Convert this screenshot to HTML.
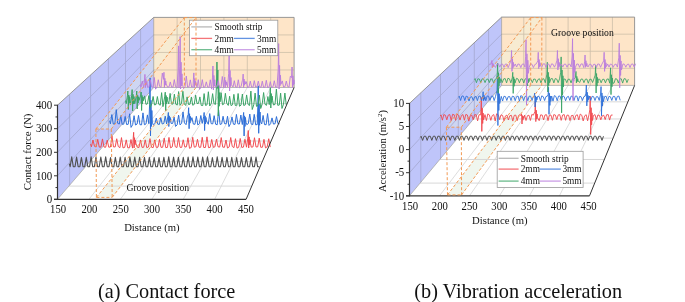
<!DOCTYPE html>
<html><head><meta charset="utf-8"><style>
html,body{margin:0;padding:0;background:#fff;}
body{width:685px;height:302px;overflow:hidden;font-family:"Liberation Serif",serif;}
svg{will-change:transform;}
svg{display:block;}
</style></head><body>
<svg width="685" height="302" viewBox="0 0 685 302" font-family="Liberation Serif, serif" fill="#111">
<rect width="685" height="302" fill="#ffffff"/>
<polygon points="57.5,105.2 153.7,17.4 153.7,87.5 57.5,199.3" fill="#bfc5fa" stroke="none" stroke-width="1" />
<polygon points="153.7,17.4 294.1,17.4 294.1,87.5 153.7,87.5" fill="#fee5c8" stroke="none" stroke-width="1" />
<polygon points="57.5,199.3 246.1,199.3 294.1,87.5 153.7,87.5" fill="#ffffff" stroke="none" stroke-width="1" />
<polygon points="96.4,197.4 112.2,197.4 196,87.5 184.4,87.5" fill="#f0f6ee" stroke="none" stroke-width="1" />
<polygon points="95.9,129 111.3,129 196,17.6 184.3,17.6" fill="#ebf5e1" stroke="none" stroke-width="1" fill-opacity="0.34"/>
<line x1="69.6" y1="94.16" x2="69.6" y2="185.24" stroke="#a3a7cf" stroke-width="0.8" />
<line x1="90.6" y1="74.99" x2="90.6" y2="160.83" stroke="#a3a7cf" stroke-width="0.8" />
<line x1="108.4" y1="58.74" x2="108.4" y2="140.15" stroke="#a3a7cf" stroke-width="0.8" />
<line x1="125.5" y1="43.14" x2="125.5" y2="120.27" stroke="#a3a7cf" stroke-width="0.8" />
<line x1="140.6" y1="29.36" x2="140.6" y2="102.72" stroke="#a3a7cf" stroke-width="0.8" />
<line x1="57.5" y1="175.78" x2="153.7" y2="69.97" stroke="#a3a7cf" stroke-width="0.8" />
<line x1="57.5" y1="152.25" x2="153.7" y2="52.45" stroke="#a3a7cf" stroke-width="0.8" />
<line x1="57.5" y1="128.73" x2="153.7" y2="34.93" stroke="#a3a7cf" stroke-width="0.8" />
<line x1="177.1" y1="17.4" x2="177.1" y2="87.5" stroke="#cdbfa8" stroke-width="0.8" />
<line x1="200.5" y1="17.4" x2="200.5" y2="87.5" stroke="#cdbfa8" stroke-width="0.8" />
<line x1="223.9" y1="17.4" x2="223.9" y2="87.5" stroke="#cdbfa8" stroke-width="0.8" />
<line x1="247.3" y1="17.4" x2="247.3" y2="87.5" stroke="#cdbfa8" stroke-width="0.8" />
<line x1="270.7" y1="17.4" x2="270.7" y2="87.5" stroke="#cdbfa8" stroke-width="0.8" />
<line x1="153.7" y1="69.97" x2="294.1" y2="69.97" stroke="#cdbfa8" stroke-width="0.8" />
<line x1="153.7" y1="52.45" x2="294.1" y2="52.45" stroke="#cdbfa8" stroke-width="0.8" />
<line x1="153.7" y1="34.93" x2="294.1" y2="34.93" stroke="#cdbfa8" stroke-width="0.8" />
<line x1="88.93" y1="199.3" x2="177.1" y2="87.5" stroke="#d4d4d4" stroke-width="0.8" />
<line x1="120.37" y1="199.3" x2="200.5" y2="87.5" stroke="#d4d4d4" stroke-width="0.8" />
<line x1="151.8" y1="199.3" x2="223.9" y2="87.5" stroke="#d4d4d4" stroke-width="0.8" />
<line x1="183.23" y1="199.3" x2="247.3" y2="87.5" stroke="#d4d4d4" stroke-width="0.8" />
<line x1="214.67" y1="199.3" x2="270.7" y2="87.5" stroke="#d4d4d4" stroke-width="0.8" />
<line x1="68.87" y1="186.09" x2="251.77" y2="186.09" stroke="#d4d4d4" stroke-width="0.9" />
<line x1="89.87" y1="161.68" x2="262.25" y2="161.68" stroke="#d4d4d4" stroke-width="0.9" />
<line x1="107.67" y1="141" x2="271.13" y2="141" stroke="#d4d4d4" stroke-width="0.9" />
<line x1="124.77" y1="121.12" x2="279.66" y2="121.12" stroke="#d4d4d4" stroke-width="0.9" />
<line x1="139.87" y1="103.57" x2="287.2" y2="103.57" stroke="#d4d4d4" stroke-width="0.9" />
<polyline points="57.5,105.2 153.7,17.4 294.1,17.4 294.1,87.5" fill="none" stroke="#8c8c8c" stroke-width="0.9" stroke-linejoin="round" />
<line x1="153.7" y1="17.4" x2="153.7" y2="87.5" stroke="#8c8c8c" stroke-width="0.6" />
<line x1="57.5" y1="199.3" x2="153.7" y2="87.5" stroke="#8c8c8c" stroke-width="0.6" />
<line x1="153.7" y1="87.5" x2="294.1" y2="87.5" stroke="#8c8c8c" stroke-width="0.6" />
<polyline points="69.3,163.73 70.17,166.7 71.72,156.91 73.28,166.7 75.02,166.7 76.57,157.16 78.13,166.7 79.87,166.7 81.42,157.46 82.98,166.7 84.72,166.7 86.27,157.37 87.83,166.7 89.57,166.7 91.12,156.82 92.68,166.7 94.42,166.7 95.97,157.13 97.53,166.7 99.27,166.7 100.82,156.98 102.38,166.7 104.12,166.7 105.67,156.82 107.23,166.7 108.97,166.7 110.52,157.59 112.08,166.7 113.82,166.7 115.37,157.36 116.93,166.7 118.67,166.7 120.22,157.04 121.78,166.7 123.52,166.7 125.07,157.27 126.63,166.7 128.37,166.7 129.92,156.94 131.48,166.7 133.22,166.7 134.77,157.15 136.33,166.7 138.07,166.7 139.62,157.19 141.18,166.7 142.92,166.7 144.47,157.27 146.03,166.7 147.77,166.7 149.32,157.41 150.88,166.7 152.62,166.7 154.17,157.55 155.73,166.7 157.47,166.7 159.02,157.56 160.58,166.7 162.32,166.7 163.87,157.39 165.43,166.7 167.17,166.7 168.72,156.84 170.28,166.7 172.02,166.7 173.57,157.18 175.13,166.7 176.87,166.7 178.42,157.29 179.98,166.7 181.72,166.7 183.27,157.26 184.83,166.7 186.57,166.7 188.12,157 189.68,166.7 191.42,166.7 192.97,156.81 194.53,166.7 196.27,166.7 197.82,157.07 199.38,166.7 201.12,166.7 202.67,157.02 204.23,166.7 205.97,166.7 207.52,156.82 209.08,166.7 210.82,166.7 212.37,157.51 213.93,166.7 215.67,166.7 217.22,156.82 218.78,166.7 220.52,166.7 222.07,157.36 223.63,166.7 225.37,166.7 226.92,157.43 228.48,166.7 230.22,166.7 231.77,157.26 233.33,166.7 235.07,166.7 236.62,157.57 238.18,166.7 239.92,166.7 241.47,157.54 243.03,166.7 244.77,166.7 246.32,157.5 247.88,166.7 249.62,166.7 251.17,156.94 252.73,166.7 254.47,166.7 256.02,157.1 257.58,166.7 259.32,166.7" fill="none" stroke="#505050" stroke-width="1.1" stroke-linejoin="round" />
<polyline points="90.6,144.06 91.45,146.76 92.97,140.01 94.49,146.35 96.2,147.01 97.72,139.36 99.24,147.11 100.95,147.13 102.47,138.91 103.99,147.02 105.7,147.24 107.22,140.12 108.74,147.19 110.45,147.02 111.97,135.91 113.49,146.9 115.2,146.94 116.72,138.75 118.24,146.47 119.95,147.68 121.47,137.6 122.99,147.86 124.7,147.43 126.22,139.83 127.74,147.82 129.45,147.67 130.97,139.52 132.5,148.12 133.2,138.67 133.65,132.3 134.1,147.98 134.55,137.69 135,144.75 135.45,140.14 135.9,143.28 137.25,147.19 138.95,147.52 140.47,139.92 142,147.38 143.7,147.26 145.22,139.85 146.75,147.67 148.45,147.02 149.97,138.63 151.5,147.22 153.2,147.6 154.72,139.87 156.25,147.41 157.95,147.21 159.47,139.28 161,147.36 162.7,147.21 164.22,138.12 165.75,147.63 167.45,147.42 168.97,137.42 170.5,147.82 172.2,146.97 173.72,137.43 175.25,146.71 176.95,147.54 178.47,137.51 180,147.29 181.7,147.41 183.22,139.79 184.75,146.95 186.45,146.79 187.97,137.71 189.5,148.33 191.2,147.5 192.72,137.26 194.25,147.17 195.95,146.75 197.47,139.23 199,147.23 200.7,147.31 202.22,137.31 203.75,147.55 205.45,147.46 206.97,136.85 208.5,147.69 210.2,147.4 211.72,139.42 213.25,147.37 214.95,146.81 216.47,139.14 218,146.75 219.7,147.09 221.22,137.57 222.75,147.11 224.45,147.3 225.97,140.02 227.5,148.06 229.2,146.86 230.72,137.51 232.25,146.47 233.95,147.62 235.47,138.69 237,148.11 238.7,147.29 240.22,138.51 241.75,147.41 243.45,147.12 244.97,139.29 246.5,147.2 247.8,138.04 248.25,130.5 248.7,147.98 249.15,136.88 249.6,144.75 250.05,139.78 250.5,143.28 251.25,147.16 252.95,146.92 254.47,137.73 256,146.94 257.71,146.91 259.23,138.11 260.75,147.31 262.46,147.21 263.98,139.34 265.5,147.91 267.21,146.8 268.73,138.74 270.25,147.09" fill="none" stroke="#f0474c" stroke-width="0.95" stroke-linejoin="round" />
<polyline points="109.6,120.71 110.4,123.91 111.82,114.6 113.25,124.07 114.85,123.74 116.27,109.62 117.7,123.33 119.3,124.07 120.72,115.68 122.15,124.29 123.75,124.14 125.17,116.44 126.6,124.52 128.2,124.25 129.62,113.8 131.05,127.4 132.65,124.69 134.07,115.69 135.5,125.03 137.1,124.02 138.52,115.33 139.95,124.7 141.55,124.83 142.97,112.87 144.4,124.73 146,123.93 147.42,114.9 148.85,123.7 149.6,104.39 150.05,77.9 150.5,136 150.95,100.31 151.4,126.46 151.85,110.5 152.3,122.12 153.3,125.05 154.9,123.59 156.32,118.09 157.75,124.15 159.35,124.44 160.77,117.69 162.2,123.99 163.8,123.43 165.22,116.16 166.65,123.98 167.9,116.49 168.35,112.47 168.8,126.5 169.25,115.87 169.7,122.18 170.15,117.41 170.6,120.22 171.1,123.43 172.7,123.4 174.12,117.06 175.55,126.46 177.15,124.85 178.57,115.03 180,124.86 181.6,123.38 183.02,111.94 184.45,122.92 186.05,124.68 187.47,116.12 188.2,114.82 188.65,107.7 189.1,128.7 189.55,113.72 190,123.17 190.45,116.46 190.9,120.66 191.92,117.66 193.35,124.08 194.95,124.29 196.37,116.26 197.8,124.98 199.4,123.7 200.82,115.5 202.25,123.4 203.7,116.49 204.15,112.47 204.6,130.5 205.05,115.87 205.5,123.98 205.95,117.41 206.4,121.02 208.3,124.31 209.72,113.59 211.15,123.63 212.75,123.88 214.17,115.66 215.6,124.2 217.2,124.82 218.62,110.22 220.05,124.44 221.65,123.9 223.07,116.25 224.5,123.61 226.1,123.92 227.52,116.26 228.95,126.62 230.55,123.68 231.97,116.91 233.4,124.15 235,124.42 236.42,114.37 237.85,123.8 239.45,124.01 240.87,115.05 242.3,124.56 243.2,116.49 243.65,112.47 244.1,136 244.55,115.87 245,126.46 245.45,117.41 245.9,122.12 246.75,124.63 248.35,123.63 249.77,114.06 251.2,124.11 252.8,124.58 254.22,114.35 255.65,124.8 257.25,124.56 257.8,107.15 258.25,85.8 258.7,133.3 259.15,103.87 259.6,125.24 260.05,112.08 260.5,121.58 261.7,123.97 263.12,115.43 264.55,124.62 266.15,124.7 267.57,113.52 269,125.45 270.6,123.68 272.02,117.9 273.45,124.06 275.05,123.78 276.47,116.57 277.9,123.54 279.5,123.78" fill="none" stroke="#2e6fd8" stroke-width="1.0" stroke-linejoin="round" />
<polyline points="125.5,100.55 126.27,103.67 127.4,95.71 127.85,91 128.3,109.5 128.75,94.99 129.2,103.31 129.65,96.8 130.1,100.5 130.51,105.07 131.7,95.22 132.15,89.6 132.6,111 133.05,94.36 133.5,103.99 133.95,96.52 134.4,100.8 134.76,103.8 136.3,95.71 136.75,91 137.2,109 137.65,94.99 138.1,103.09 138.55,96.8 139,100.4 140.38,96.21 140.7,96.06 141.15,92 141.6,110.5 142.05,95.44 142.5,103.76 142.95,97 143.4,100.7 144.62,95.87 145.99,104.38 147.51,103.72 148.88,95.59 150.24,107.4 151.76,104 153.12,96.48 154.49,104.94 156.01,104.48 157.38,96.56 158.74,104.28 160.26,105.18 161.62,92.65 162.99,106.63 164.8,96.13 165.25,92.2 165.7,110.8 166.15,95.53 166.6,103.9 167.05,97.04 167.5,100.76 168.76,103.78 170.12,93.4 171.49,104.08 173.01,104.05 174.38,94.14 175.74,104.18 177.26,105.07 178.62,91.59 179.99,105.34 181.51,103.41 182.88,91.27 184.24,103.86 185.76,105.52 187.12,96.89 188.49,104.41 190.01,104.25 191.38,96.94 192.74,105.27 194.26,104.33 195.62,95.11 196.99,103.5 198.51,103.33 199.88,96.92 201.24,105.42 202.76,105.57 204.12,93.59 205.49,105.39 207.01,104.87 208.38,91.76 209.74,106.02 211.26,103.59 212.62,93.65 213.99,103.66 215.51,104.41 216.5,85.56 216.95,62 217.4,88.36 217.85,70 218.3,116 218.75,85.54 219.2,106.24 219.65,92.6 220.1,101.8 221.12,92.67 222.49,104.78 224.01,103.87 225.38,93.27 226.74,103.2 228.26,105.44 229.62,96.19 230.99,105.59 232.51,104.81 233.88,94.35 235.24,105.48 236.76,105.32 238.12,93.51 239.49,106.24 241.01,105.15 242.38,94.05 243.74,105.48 245.26,104.89 246.62,94.93 247.99,104.35 249.51,105.52 250.88,91.07 252.24,109.51 253.76,104.84 255.12,93.09 256.49,106.37 258.01,105.44 259.38,95.12 260.74,108.49 262.26,103.58 263.62,92.56 264.99,104.29 266.51,105.33 267.88,96.54 269.24,104.64 269.9,94.59 270.35,87.8 270.8,108 271.25,93.55 271.7,102.64 272.15,96.16 272.6,100.2 273.49,105.02 275.01,104.43 276.38,89.05 277.74,105.27 279.26,105.08 280.62,93.14 281.99,108.48 283.51,104.19 284.88,93.05 286.24,104.85" fill="none" stroke="#3aa466" stroke-width="1.0" stroke-linejoin="round" />
<polyline points="140.3,84.65 141.02,87.27 142.3,81.04 143.58,87.6 144.5,80.09 144.95,74.4 145.4,87.65 145.85,79.21 146.3,85.18 146.75,81.4 147.2,84.05 147.58,87.49 149.02,86.86 150.3,79.7 151.58,86.89 153.02,87.36 154.3,77.48 155.58,89.16 157.02,86.77 158.3,79.76 159.58,86.4 161.02,87.33 162.3,73.07 163.5,79.35 163.95,72.3 164.4,87.65 164.85,78.27 165.3,85.18 165.75,80.98 166.2,84.05 167.58,87.16 169.02,86.9 170.3,81.94 171.58,87.09 173.02,87.13 174.3,79.57 175.58,86.75 177.02,87.29 178.1,70.11 178.55,45.9 179,88 179.7,66.86 180.15,36.6 180.6,89 181.05,62.2 181.5,85.78 181.95,73.84 182.4,84.32 183.58,88.57 185.02,86.95 186.3,76.1 187.58,87.1 189.02,86.82 190.3,79.87 191.58,87.01 193.02,86.94 193.4,79.56 193.85,72.9 194.3,87.65 194.75,78.54 195.2,85.18 195.65,81.1 196.1,84.05 197.02,87.27 198.3,79.68 199.58,89.43 201.02,87.13 202.3,79.64 203.58,87.45 205.02,86.91 206.3,81.83 207.58,86.93 209.02,87.42 210.3,79.79 211.58,89.14 212.5,77.15 212.95,66 213.4,90 213.85,75.43 214.3,86.23 214.75,79.72 215.2,84.52 215.58,86.92 217.02,86.72 218.3,80.6 219.58,88.02 221.02,87.39 222.3,76.48 223.58,87.49 224.3,81.07 224.75,77.2 225.2,87.65 225.65,80.47 226.1,85.18 226.55,81.96 227,84.05 227.58,87.05 228.7,73.3 229.15,55 229.6,91 230.05,70.48 230.5,86.68 230.95,77.52 231.4,84.72 233.02,87.03 234.3,80.68 235.58,86.88 237.02,87.42 238.3,79.78 239.58,87.76 241.02,86.74 242.3,80.71 242.7,79.98 243.15,74.1 243.6,87.65 244.05,79.08 244.5,85.18 244.95,81.34 245.4,84.05 246.3,81.68 247.58,87.47 249.02,86.95 250.3,81.14 251.58,87.1 253.02,87.19 254.3,80.67 255.58,87.04 257.02,86.68 258.3,81.11 259.58,86.72 261.02,87.29 262.3,81.16 263.58,87.4 265.02,87.23 266.3,80.31 267.58,87.47 269.02,87.19 270.3,81.61 271.58,87.55 273.02,86.8 274.3,80.76 275.58,87.05 277.02,87.21 278.2,69.31 278.65,43.6 279.1,89 279.55,65.35 280,85.78 280.45,75.24 280.9,84.32 282.3,80.92 283.58,87.08 285.02,86.7 286.3,81.07 287.58,86.44 289.02,87.15 290.3,76.3 291.6,77.5 292.05,67 292.5,87.65 292.95,75.88 293.4,85.18 293.85,79.92 294.3,84.05" fill="none" stroke="#b97ddd" stroke-width="0.95" stroke-linejoin="round" />
<line x1="57.5" y1="104.7" x2="57.5" y2="199.9" stroke="#333333" stroke-width="1.2" />
<line x1="54" y1="199.3" x2="246.1" y2="199.3" stroke="#333333" stroke-width="1.2" />
<line x1="246.1" y1="199.3" x2="294.1" y2="87.5" stroke="#333333" stroke-width="1.0" />
<line x1="54" y1="199.3" x2="57.5" y2="199.3" stroke="#333333" stroke-width="1.0" />
<text transform="translate(52.2,203.05) scale(1,1.1)" font-size="10.9" text-anchor="end">0</text>
<line x1="54" y1="175.8" x2="57.5" y2="175.8" stroke="#333333" stroke-width="1.0" />
<text transform="translate(52.2,179.55) scale(1,1.1)" font-size="10.9" text-anchor="end">100</text>
<line x1="54" y1="152.3" x2="57.5" y2="152.3" stroke="#333333" stroke-width="1.0" />
<text transform="translate(52.2,156.05) scale(1,1.1)" font-size="10.9" text-anchor="end">200</text>
<line x1="54" y1="128.7" x2="57.5" y2="128.7" stroke="#333333" stroke-width="1.0" />
<text transform="translate(52.2,132.45) scale(1,1.1)" font-size="10.9" text-anchor="end">300</text>
<line x1="54" y1="105.2" x2="57.5" y2="105.2" stroke="#333333" stroke-width="1.0" />
<text transform="translate(52.2,108.95) scale(1,1.1)" font-size="10.9" text-anchor="end">400</text>
<line x1="55.5" y1="187.55" x2="57.5" y2="187.55" stroke="#333333" stroke-width="1.0" />
<line x1="55.5" y1="164.05" x2="57.5" y2="164.05" stroke="#333333" stroke-width="1.0" />
<line x1="55.5" y1="140.5" x2="57.5" y2="140.5" stroke="#333333" stroke-width="1.0" />
<line x1="55.5" y1="116.95" x2="57.5" y2="116.95" stroke="#333333" stroke-width="1.0" />
<text transform="translate(58.1,213.4) scale(1,1.1)" font-size="10.7" text-anchor="middle">150</text>
<text transform="translate(89.4,213.4) scale(1,1.1)" font-size="10.7" text-anchor="middle">200</text>
<text transform="translate(120.7,213.4) scale(1,1.1)" font-size="10.7" text-anchor="middle">250</text>
<text transform="translate(152,213.4) scale(1,1.1)" font-size="10.7" text-anchor="middle">300</text>
<text transform="translate(183.3,213.4) scale(1,1.1)" font-size="10.7" text-anchor="middle">350</text>
<text transform="translate(214.6,213.4) scale(1,1.1)" font-size="10.7" text-anchor="middle">400</text>
<text transform="translate(245.9,213.4) scale(1,1.1)" font-size="10.7" text-anchor="middle">450</text>
<polygon points="409.5,103.4 501.6,17.1 501.6,85.4 409.5,195.8" fill="#bfc5fa" stroke="none" stroke-width="1" />
<polygon points="501.6,17.1 634.6,17.1 634.6,85.4 501.6,85.4" fill="#fee5c8" stroke="none" stroke-width="1" />
<polygon points="409.5,195.8 589.5,195.8 634.6,85.4 501.6,85.4" fill="#ffffff" stroke="none" stroke-width="1" />
<polygon points="447.5,194.9 461.6,194.9 541.7,85.4 530.7,85.4" fill="#f0f6ee" stroke="none" stroke-width="1" />
<polygon points="446.4,127.2 461.3,127.2 541.9,17.6 530.7,17.6" fill="#ebf5e1" stroke="none" stroke-width="1" fill-opacity="0.34"/>
<line x1="420.8" y1="92.81" x2="420.8" y2="182.25" stroke="#a3a7cf" stroke-width="0.8" />
<line x1="440.5" y1="74.35" x2="440.5" y2="158.64" stroke="#a3a7cf" stroke-width="0.8" />
<line x1="458.3" y1="57.67" x2="458.3" y2="137.3" stroke="#a3a7cf" stroke-width="0.8" />
<line x1="474.3" y1="42.68" x2="474.3" y2="118.12" stroke="#a3a7cf" stroke-width="0.8" />
<line x1="488.6" y1="29.28" x2="488.6" y2="100.98" stroke="#a3a7cf" stroke-width="0.8" />
<line x1="409.5" y1="172.7" x2="501.6" y2="68.33" stroke="#a3a7cf" stroke-width="0.8" />
<line x1="409.5" y1="149.6" x2="501.6" y2="51.25" stroke="#a3a7cf" stroke-width="0.8" />
<line x1="409.5" y1="126.5" x2="501.6" y2="34.17" stroke="#a3a7cf" stroke-width="0.8" />
<line x1="523.77" y1="17.1" x2="523.77" y2="85.4" stroke="#cdbfa8" stroke-width="0.8" />
<line x1="545.93" y1="17.1" x2="545.93" y2="85.4" stroke="#cdbfa8" stroke-width="0.8" />
<line x1="568.1" y1="17.1" x2="568.1" y2="85.4" stroke="#cdbfa8" stroke-width="0.8" />
<line x1="590.27" y1="17.1" x2="590.27" y2="85.4" stroke="#cdbfa8" stroke-width="0.8" />
<line x1="612.43" y1="17.1" x2="612.43" y2="85.4" stroke="#cdbfa8" stroke-width="0.8" />
<line x1="501.6" y1="68.33" x2="634.6" y2="68.33" stroke="#cdbfa8" stroke-width="0.8" />
<line x1="501.6" y1="51.25" x2="634.6" y2="51.25" stroke="#cdbfa8" stroke-width="0.8" />
<line x1="501.6" y1="34.17" x2="634.6" y2="34.17" stroke="#cdbfa8" stroke-width="0.8" />
<line x1="439.5" y1="195.8" x2="523.77" y2="85.4" stroke="#d4d4d4" stroke-width="0.8" />
<line x1="469.5" y1="195.8" x2="545.93" y2="85.4" stroke="#d4d4d4" stroke-width="0.8" />
<line x1="499.5" y1="195.8" x2="568.1" y2="85.4" stroke="#d4d4d4" stroke-width="0.8" />
<line x1="529.5" y1="195.8" x2="590.27" y2="85.4" stroke="#d4d4d4" stroke-width="0.8" />
<line x1="559.5" y1="195.8" x2="612.43" y2="85.4" stroke="#d4d4d4" stroke-width="0.8" />
<line x1="420.09" y1="183.1" x2="594.69" y2="183.1" stroke="#d4d4d4" stroke-width="0.9" />
<line x1="439.79" y1="159.49" x2="604.33" y2="159.49" stroke="#d4d4d4" stroke-width="0.9" />
<line x1="457.59" y1="138.15" x2="613.05" y2="138.15" stroke="#d4d4d4" stroke-width="0.9" />
<line x1="473.59" y1="118.97" x2="620.88" y2="118.97" stroke="#d4d4d4" stroke-width="0.9" />
<line x1="487.89" y1="101.83" x2="627.89" y2="101.83" stroke="#d4d4d4" stroke-width="0.9" />
<polyline points="409.5,103.4 501.6,17.1 634.6,17.1 634.6,85.4" fill="none" stroke="#8c8c8c" stroke-width="0.9" stroke-linejoin="round" />
<line x1="501.6" y1="17.1" x2="501.6" y2="85.4" stroke="#8c8c8c" stroke-width="0.6" />
<line x1="409.5" y1="195.8" x2="501.6" y2="85.4" stroke="#8c8c8c" stroke-width="0.6" />
<line x1="501.6" y1="85.4" x2="634.6" y2="85.4" stroke="#8c8c8c" stroke-width="0.6" />
<polyline points="420.3,137.46 421.13,136.25 422.6,140.4 424.07,136.25 425.73,136.25 427.2,140.4 428.67,136.25 430.33,136.27 431.8,140.4 433.27,136.27 434.93,136.2 436.4,140.4 437.87,136.2 439.53,136.25 441,140.4 442.47,136.25 444.13,136.23 445.6,140.4 447.07,136.23 448.73,136.23 450.2,140.4 451.67,136.23 453.33,136.29 454.8,140.4 456.27,136.29 457.93,136.21 459.4,140.4 460.87,136.21 462.53,136.28 464,140.4 465.47,136.28 467.13,136.26 468.6,140.4 470.07,136.26 471.73,136.24 473.2,140.4 474.67,136.24 476.33,136.22 477.8,140.4 479.27,136.22 480.93,136.23 482.4,140.4 483.87,136.23 485.53,136.23 487,140.4 488.47,136.23 490.13,136.29 491.6,140.4 493.07,136.29 494.73,136.28 496.2,140.4 497.67,136.28 499.33,136.21 500.8,140.4 502.27,136.21 503.93,136.26 505.4,140.4 506.87,136.26 508.53,136.29 510,140.4 511.47,136.29 513.13,136.25 514.6,140.4 516.07,136.25 517.73,136.29 519.2,140.4 520.67,136.29 522.33,136.2 523.8,140.4 525.27,136.2 526.93,136.28 528.4,140.4 529.87,136.28 531.53,136.28 533,140.4 534.47,136.28 536.13,136.29 537.6,140.4 539.07,136.29 540.73,136.26 542.2,140.4 543.67,136.26 545.33,136.24 546.8,140.4 548.27,136.24 549.93,136.2 551.4,140.4 552.87,136.2 554.53,136.3 556,140.4 557.47,136.3 559.13,136.3 560.6,140.4 562.07,136.3 563.73,136.25 565.2,140.4 566.67,136.25 568.33,136.21 569.8,140.4 571.27,136.21 572.93,136.22 574.4,140.4 575.87,136.22 577.53,136.23 579,140.4 580.47,136.23 582.13,136.2 583.6,140.4 585.07,136.2 586.73,136.25 588.2,140.4 589.67,136.25 591.33,136.25 592.8,140.4 594.27,136.25 595.93,136.25 597.4,140.4 598.87,136.25 600.53,136.24 602,140.4 603.47,136.24" fill="none" stroke="#505050" stroke-width="1.0" stroke-linejoin="round" />
<polyline points="440.2,115.96 440.99,114.89 442.4,120.18 443.81,114.54 445.39,115.24 446.8,119.83 448.21,115.15 449.79,114.57 451.2,120.67 452.61,114.31 454.19,114.82 455.6,120.39 457.01,114.18 458.59,115.43 460,120.09 461.41,115.62 462.99,114.57 464.4,120.22 465.81,114.44 467.39,115.02 468.8,121.11 470.21,115.76 471.79,115.09 473.2,119.78 474.61,114.68 476.19,114.78 477.6,120.88 479.01,114.67 480.59,114.94 480.9,110.17 481.35,97.5 481.8,131.4 482.25,108.22 482.7,123.48 483.15,113.1 483.6,119.88 484.99,114.59 486.4,120.59 487.81,113.89 489.39,114.88 490.8,120.35 492.21,115.59 493.79,114.57 495.2,121.02 496.61,113.8 498.19,114.68 499.6,119.66 501.01,114.86 502.59,115.42 504,120.83 505.41,115.94 506.99,115.06 508.4,120.01 509.81,115.76 511.39,115.33 512.8,121.07 514.21,115.35 515.79,115.12 517.2,120.67 518.61,115.43 520.19,114.54 521.1,115.91 521.55,113.88 522,124 522.45,115.6 522.9,120.15 523.35,116.38 523.8,118.4 524.59,115.05 526,120.52 527.41,115.68 528.99,115.22 530.4,120.48 531.81,114.47 533.39,115.14 534.9,111.72 535.35,101.9 535.8,121.6 536.25,110.2 536.7,119.07 537.15,113.98 537.6,117.92 539.2,120.68 540.61,114.86 542.19,115.05 543.6,119.98 545.01,114.9 546.59,114.74 548,120.69 549.41,115.14 550.99,115.09 552.4,120.29 553.81,114.59 555.39,115.09 556.8,119.61 558.21,114.88 559.79,114.69 561.2,120.38 562.61,115 564.19,114.57 565.6,120.32 567.01,115.12 568.59,115.26 570,120.65 571.41,115.52 572.99,115.41 574.4,120.1 575.81,115.41 577.39,114.78 578.8,119.99 580.21,114.07 581.79,115.24 583.2,120.96 584.61,115.86 586.19,114.73 587.6,120.82 589.01,114.6 589.8,109.75 590.25,96.3 590.7,134.5 591.15,107.69 591.6,124.88 592.05,112.86 592.5,120.5 593.41,115.52 594.99,114.58 596.4,119.68 597.81,115.1 599.39,115.31 600.8,119.81 602.21,115.88 603.79,115.27 605.2,119.62 606.61,114.75 608.19,114.57 609.6,120.09 611.01,115.13 612.59,115.03" fill="none" stroke="#f0474c" stroke-width="0.88" stroke-linejoin="round" />
<polyline points="458.5,97.29 459.26,96.22 460.6,100.5 461.94,95.92 463.46,96.19 464.8,100.55 466.14,96.13 467.66,96.72 469,101.05 470.34,96.99 471.86,96.69 473.2,100.52 474.54,96.99 476.06,96.42 477.4,100.67 478.74,96.26 480.26,96.1 481.6,100.78 482.7,95.89 483.15,91.7 483.6,100.73 484.05,95.25 484.5,99.31 484.95,96.86 485.4,98.67 485.8,100.75 487.14,95.9 488.66,96.4 490,100.5 491.34,96.17 492.86,96.17 494.2,100.64 495.54,96.36 497,90.4 497.45,76 497.9,125.5 498.35,88.18 498.8,110.46 499.25,93.72 499.7,103.62 501.26,96.36 502.6,101.03 503.94,96.25 505.46,96.62 506.8,100.48 508.14,96.72 509.66,96.5 511,100.55 512.34,96.21 513.86,96.59 515.2,100.78 516.54,96.63 518.06,96.03 519.4,101.16 520.74,95.71 522.26,96.26 523.6,100.62 524.94,96.55 526.46,96 527.8,100.71 529.14,96.15 530.66,96.26 532,100.52 533.34,96.41 534.2,96.38 534.65,93.1 535.1,107 535.55,95.88 536,102.13 536.45,97.14 536.9,99.92 537.54,96.48 539.06,96.3 540.4,100.82 541.74,95.88 543.26,96.67 544.6,100.55 545.94,96.61 547.46,96.12 548.1,94.35 548.55,87.3 549,114.3 549.45,93.27 549.9,105.42 550.35,95.98 550.8,101.38 551.66,96.03 553,101.15 554.34,95.64 555.86,96.46 557.2,100.77 558.54,96.14 560.06,96 561.4,100.62 562.74,95.87 564.26,96.69 565.6,100.75 566.94,97.05 568.46,96.38 569.8,100.4 571.14,96.07 572.66,96.46 574,100.56 575.34,96.1 576.86,96.04 578.2,101.05 579.54,96.47 581.06,96.7 582.4,100.55 583.74,96.92 585.26,96.09 585.9,93.55 586.35,85 586.8,105.9 587.25,92.23 587.7,101.64 588.15,95.52 588.6,99.7 589.46,96 590.8,100.51 592.14,96.3 593.66,96.73 595,100.52 596.34,96.7 597.86,96.78 599.2,100.46 600.6,94.11 601.05,86.6 601.5,115.8 601.95,92.95 602.4,106.09 602.85,95.84 603.3,101.68 604.74,96.36 606.26,96.43 607.6,100.86 608.94,96.37 610.46,96.83 611.8,100.43 613.14,96.44 614.66,96.43 616,100.51 617.34,96.46 618.86,96.01 620.2,100.34" fill="none" stroke="#2e6fd8" stroke-width="0.88" stroke-linejoin="round" />
<polyline points="474.3,79.7 475.07,78.59 476.45,82.7 477.83,78.77 479.37,79.03 480.75,82.59 482.13,78.81 483.67,79.22 485.05,82.62 486.43,79.26 487.97,79.03 489.35,82.57 490.73,78.79 492.27,79.28 493.65,83.2 495.03,79.43 496.57,78.59 497.2,74.45 497.65,63.2 498.1,93 498.55,72.72 499,86.12 499.45,77.04 499.9,83 500.87,78.66 502.25,82.58 503.63,78.91 505.17,78.57 506.55,82.92 507.93,78.25 509.47,78.88 510.85,82.85 512.3,77.63 512.75,72.3 513.2,93.4 513.65,76.81 514.1,86.31 514.55,78.86 515,83.08 516.53,78.29 518.07,79.06 519.45,82.84 520.83,78.94 522.37,78.96 523.75,83 525.13,78.93 526.4,78.58 526.85,75 527.3,86 527.75,78.03 528.2,82.97 528.65,79.4 529.1,81.6 529.43,78.53 530.97,79.25 532.35,82.66 533.73,79.03 535.27,79.2 536.65,82.73 538.03,79.41 539.57,78.79 540.95,82.91 542.33,79.07 543.87,78.79 545.25,82.75 546.9,74.13 547.35,62.3 547.8,92 548.25,72.31 548.7,85.67 549.15,76.86 549.6,82.8 550.93,78.67 552.47,78.66 553.85,82.94 555.23,78.56 556.77,79.13 558.15,82.68 559.53,78.85 560.7,72.24 561.15,56.9 561.6,112.8 562.05,69.88 562.5,95.03 562.95,75.78 563.4,86.96 563.83,78.96 565.37,79.25 566.75,82.71 568.13,79.22 569.67,79.25 571.05,82.93 572.43,78.92 573.97,79.19 575.5,77.31 575.95,71.4 576.4,82.9 576.85,76.41 577.3,81.58 577.75,78.68 578.2,80.98 579.65,82.5 581.03,79.09 582.57,79.13 583.95,82.7 585.33,79.27 586.87,79.02 588.25,83.24 589.63,79.34 591.17,79.18 592.55,82.52 593.93,78.89 595.2,75.08 595.65,65 596.1,93 596.55,73.53 597,86.12 597.45,77.4 597.9,83 598.23,79.22 599.77,79.22 601.15,82.84 602.53,79.37 604.07,79.27 605.45,82.88 606.83,79.18 608.37,78.92 609.75,83.19 610.1,76.06 610.55,67.8 611,94.6 611.45,74.78 611.9,86.84 612.35,77.96 612.8,83.32 614.05,83.05 615.43,78.69 616.97,79.12 618.35,83.06 619.73,78.87 621.27,78.8 622.65,83.1 624.03,78.68 625.57,78.9 626.95,82.61 628.33,79.18" fill="none" stroke="#3aa466" stroke-width="0.88" stroke-linejoin="round" />
<polyline points="489.3,64.76 490.06,64.42 491.4,63.69 491.85,60.5 492.3,67.32 492.75,63.2 493.2,66.26 493.65,64.42 494.1,65.78 495.6,67.45 496.94,64.1 498.46,63.97 499.8,67.14 501.14,64.24 502.66,64.13 504,67.36 505.34,64.04 506.86,64.16 508.2,67.64 509.54,64.16 511.1,60.19 511.55,50.5 512,71.4 512.45,58.7 512.9,68.1 513.35,62.42 513.8,66.6 515.26,63.98 516.6,67.03 517.94,63.96 519.46,64.34 520.8,67.61 522.14,64.24 523.66,63.95 525,67.22 525.6,56.37 526.05,39.6 526.5,105 526.95,53.79 527.4,83.22 527.85,60.24 528.3,73.32 529.2,67.32 530.54,63.77 532.06,64.34 533.4,67.57 534.74,64.62 536.26,63.9 537.8,60.82 538.25,52.3 538.7,68.7 539.15,59.51 539.6,66.89 540.05,62.78 540.5,66.06 541.8,67.16 543.14,63.9 544.66,63.81 546,67.4 547.34,63.94 548.86,64.18 550.2,67.57 551.54,63.87 553.06,64.23 554.4,67.16 555.74,64.54 557,60.19 557.45,50.5 557.9,70 558.35,58.7 558.8,67.47 559.25,62.42 559.7,66.32 561.46,64.02 562.8,67.07 564.14,64.23 565.66,64.17 567,67.22 568.34,64.32 569.86,64.15 571.2,67 572.1,56.02 572.55,38.6 573,100.6 573.45,53.34 573.9,81.24 574.35,60.04 574.8,72.44 575.4,67.35 576.74,64.06 578.26,64.04 579.6,67.34 580.94,64.01 582.46,63.9 583.8,67.63 584.6,61.76 585.05,55 585.5,67.32 585.95,60.72 586.4,66.26 586.85,63.32 587.3,65.78 588,67.04 589.34,64.33 590.86,64.25 592.2,67.43 593.54,64.43 595.06,64.26 596.4,67.55 597.74,63.98 599.26,64.07 600.6,67.32 601.94,64.05 603.7,60.82 604.15,52.3 604.6,71.4 605.05,59.51 605.5,68.1 605.95,62.78 606.4,66.6 607.66,63.96 609,67.11 610.34,64.07 611.86,64.44 613.2,67.3 614.54,64.62 616.06,64.05 617.4,67.11 618.8,57.63 619.25,43.2 619.7,87.8 620.15,55.41 620.6,75.48 621.05,60.96 621.5,69.88 622.94,63.91 624.46,64.29 625.8,67.21 627.14,64.52 628.66,64.09 630,67.57 631.34,64.21 632.86,63.97 634.2,67.15 635.54,63.75" fill="none" stroke="#b97ddd" stroke-width="0.88" stroke-linejoin="round" />
<line x1="409.5" y1="102.9" x2="409.5" y2="196.4" stroke="#333333" stroke-width="1.2" />
<line x1="406" y1="195.8" x2="589.5" y2="195.8" stroke="#333333" stroke-width="1.2" />
<line x1="589.5" y1="195.8" x2="634.6" y2="85.4" stroke="#333333" stroke-width="1.0" />
<line x1="406" y1="195.8" x2="409.5" y2="195.8" stroke="#333333" stroke-width="1.0" />
<text transform="translate(404.2,199.55) scale(1,1.1)" font-size="10.9" text-anchor="end">-10</text>
<line x1="406" y1="172.7" x2="409.5" y2="172.7" stroke="#333333" stroke-width="1.0" />
<text transform="translate(404.2,176.45) scale(1,1.1)" font-size="10.9" text-anchor="end">-5</text>
<line x1="406" y1="149.6" x2="409.5" y2="149.6" stroke="#333333" stroke-width="1.0" />
<text transform="translate(404.2,153.35) scale(1,1.1)" font-size="10.9" text-anchor="end">0</text>
<line x1="406" y1="126.5" x2="409.5" y2="126.5" stroke="#333333" stroke-width="1.0" />
<text transform="translate(404.2,130.25) scale(1,1.1)" font-size="10.9" text-anchor="end">5</text>
<line x1="406" y1="103.4" x2="409.5" y2="103.4" stroke="#333333" stroke-width="1.0" />
<text transform="translate(404.2,107.15) scale(1,1.1)" font-size="10.9" text-anchor="end">10</text>
<line x1="407.5" y1="184.25" x2="409.5" y2="184.25" stroke="#333333" stroke-width="1.0" />
<line x1="407.5" y1="161.15" x2="409.5" y2="161.15" stroke="#333333" stroke-width="1.0" />
<line x1="407.5" y1="138.05" x2="409.5" y2="138.05" stroke="#333333" stroke-width="1.0" />
<line x1="407.5" y1="114.95" x2="409.5" y2="114.95" stroke="#333333" stroke-width="1.0" />
<text transform="translate(410.1,210) scale(1,1.1)" font-size="10.7" text-anchor="middle">150</text>
<text transform="translate(439.85,210) scale(1,1.1)" font-size="10.7" text-anchor="middle">200</text>
<text transform="translate(469.6,210) scale(1,1.1)" font-size="10.7" text-anchor="middle">250</text>
<text transform="translate(499.35,210) scale(1,1.1)" font-size="10.7" text-anchor="middle">300</text>
<text transform="translate(529.1,210) scale(1,1.1)" font-size="10.7" text-anchor="middle">350</text>
<text transform="translate(558.85,210) scale(1,1.1)" font-size="10.7" text-anchor="middle">400</text>
<text transform="translate(588.6,210) scale(1,1.1)" font-size="10.7" text-anchor="middle">450</text>
<rect x="189.5" y="20.2" width="88.3" height="35.5" fill="#ffffff" stroke="#9a9a9a" stroke-width="0.8"/>
<line x1="191.3" y1="26.9" x2="212.1" y2="26.9" stroke="#a0a0a0" stroke-width="1.3" stroke-opacity="0.75"/>
<text x="214.5" y="30.2" font-size="9.35" text-anchor="start" >Smooth strip</text>
<line x1="191.3" y1="38.4" x2="212.1" y2="38.4" stroke="#f0474c" stroke-width="1.3" stroke-opacity="0.75"/>
<text x="214.5" y="41.7" font-size="9.35" text-anchor="start" >2mm</text>
<line x1="233.9" y1="38.4" x2="254.7" y2="38.4" stroke="#2e6fd8" stroke-width="1.3" stroke-opacity="0.75"/>
<text x="257" y="41.7" font-size="9.35" text-anchor="start" >3mm</text>
<line x1="191.3" y1="49.7" x2="212.1" y2="49.7" stroke="#3aa466" stroke-width="1.3" stroke-opacity="0.75"/>
<text x="214.5" y="53" font-size="9.35" text-anchor="start" >4mm</text>
<line x1="233.9" y1="49.7" x2="254.7" y2="49.7" stroke="#b97ddd" stroke-width="1.3" stroke-opacity="0.75"/>
<text x="257" y="53" font-size="9.35" text-anchor="start" >5mm</text>
<rect x="497.2" y="151.3" width="85.9" height="36.2" fill="#ffffff" stroke="#9a9a9a" stroke-width="0.8"/>
<line x1="498.6" y1="158.3" x2="518.6" y2="158.3" stroke="#a0a0a0" stroke-width="1.3" stroke-opacity="0.75"/>
<text x="520.7" y="161.6" font-size="9.35" text-anchor="start" >Smooth strip</text>
<line x1="498.6" y1="169.1" x2="518.6" y2="169.1" stroke="#f0474c" stroke-width="1.3" stroke-opacity="0.75"/>
<text x="520.7" y="172.4" font-size="9.35" text-anchor="start" >2mm</text>
<line x1="539.9" y1="169.1" x2="560.8" y2="169.1" stroke="#2e6fd8" stroke-width="1.3" stroke-opacity="0.75"/>
<text x="562.4" y="172.4" font-size="9.35" text-anchor="start" >3mm</text>
<line x1="498.6" y1="181.1" x2="518.6" y2="181.1" stroke="#3aa466" stroke-width="1.3" stroke-opacity="0.75"/>
<text x="520.7" y="184.4" font-size="9.35" text-anchor="start" >4mm</text>
<line x1="539.9" y1="181.1" x2="560.8" y2="181.1" stroke="#b97ddd" stroke-width="1.3" stroke-opacity="0.75"/>
<text x="562.4" y="184.4" font-size="9.35" text-anchor="start" >5mm</text>
<line x1="184.3" y1="17.6" x2="196" y2="17.6" stroke="#f29a55" stroke-width="1.0" stroke-dasharray="3,2"/>
<line x1="184.3" y1="17.6" x2="184.4" y2="87.5" stroke="#f29a55" stroke-width="1.0" stroke-dasharray="3,2"/>
<line x1="196" y1="17.6" x2="196" y2="87.5" stroke="#f29a55" stroke-width="1.0" stroke-dasharray="3,2"/>
<line x1="95.9" y1="129" x2="184.3" y2="17.6" stroke="#f29a55" stroke-width="1.0" stroke-dasharray="3,2"/>
<line x1="111.3" y1="129" x2="196" y2="17.6" stroke="#f29a55" stroke-width="1.0" stroke-dasharray="3,2"/>
<line x1="96.4" y1="197.4" x2="184.4" y2="87.5" stroke="#f29a55" stroke-width="1.0" stroke-dasharray="3,2"/>
<line x1="112.2" y1="197.4" x2="196" y2="87.5" stroke="#f29a55" stroke-width="1.0" stroke-dasharray="3,2"/>
<line x1="95.9" y1="129" x2="111.3" y2="129" stroke="#f29a55" stroke-width="1.0" stroke-dasharray="3,2"/>
<line x1="95.9" y1="129" x2="96.4" y2="197.4" stroke="#f29a55" stroke-width="1.0" stroke-dasharray="3,2"/>
<line x1="111.3" y1="129" x2="112.2" y2="197.4" stroke="#f29a55" stroke-width="1.0" stroke-dasharray="3,2"/>
<line x1="96.4" y1="197.4" x2="112.2" y2="197.4" stroke="#f29a55" stroke-width="1.0" stroke-dasharray="3,2"/>
<line x1="530.7" y1="17.6" x2="541.9" y2="17.6" stroke="#f29a55" stroke-width="1.0" stroke-dasharray="3,2"/>
<line x1="530.7" y1="17.6" x2="530.7" y2="85.4" stroke="#f29a55" stroke-width="1.0" stroke-dasharray="3,2"/>
<line x1="541.9" y1="17.6" x2="541.7" y2="85.4" stroke="#f29a55" stroke-width="1.0" stroke-dasharray="3,2"/>
<line x1="446.4" y1="127.2" x2="530.7" y2="17.6" stroke="#f29a55" stroke-width="1.0" stroke-dasharray="3,2"/>
<line x1="461.3" y1="127.2" x2="541.9" y2="17.6" stroke="#f29a55" stroke-width="1.0" stroke-dasharray="3,2"/>
<line x1="447.5" y1="194.9" x2="530.7" y2="85.4" stroke="#f29a55" stroke-width="1.0" stroke-dasharray="3,2"/>
<line x1="461.6" y1="194.9" x2="541.7" y2="85.4" stroke="#f29a55" stroke-width="1.0" stroke-dasharray="3,2"/>
<line x1="446.4" y1="127.2" x2="461.3" y2="127.2" stroke="#f29a55" stroke-width="1.0" stroke-dasharray="3,2"/>
<line x1="446.4" y1="127.2" x2="447.5" y2="194.9" stroke="#f29a55" stroke-width="1.0" stroke-dasharray="3,2"/>
<line x1="461.3" y1="127.2" x2="461.6" y2="194.9" stroke="#f29a55" stroke-width="1.0" stroke-dasharray="3,2"/>
<line x1="447.5" y1="194.9" x2="461.6" y2="194.9" stroke="#f29a55" stroke-width="1.0" stroke-dasharray="3,2"/>
<text x="126.4" y="190.6" font-size="9.7" text-anchor="start" >Groove position</text>
<text x="551.1" y="35.5" font-size="9.7" text-anchor="start" >Groove position</text>
<text x="151.9" y="230.8" font-size="10.7" text-anchor="middle" >Distance (m)</text>
<text x="499.8" y="224.1" font-size="10.7" text-anchor="middle" >Distance (m)</text>
<text transform="translate(31.3,151.9) rotate(-90)" font-size="10.9" text-anchor="middle">Contact force (N)</text>
<text transform="translate(386.0,151.0) rotate(-90)" font-size="10.5" text-anchor="middle">Acceleration (m/s<tspan font-size="7" dy="-4.5">2</tspan><tspan dy="4.5">)</tspan></text>
<text x="166.6" y="297.8" font-size="20.3" text-anchor="middle" >(a) Contact force</text>
<text x="518.2" y="297.8" font-size="20.3" text-anchor="middle" >(b) Vibration acceleration</text>
</svg>
</body></html>
